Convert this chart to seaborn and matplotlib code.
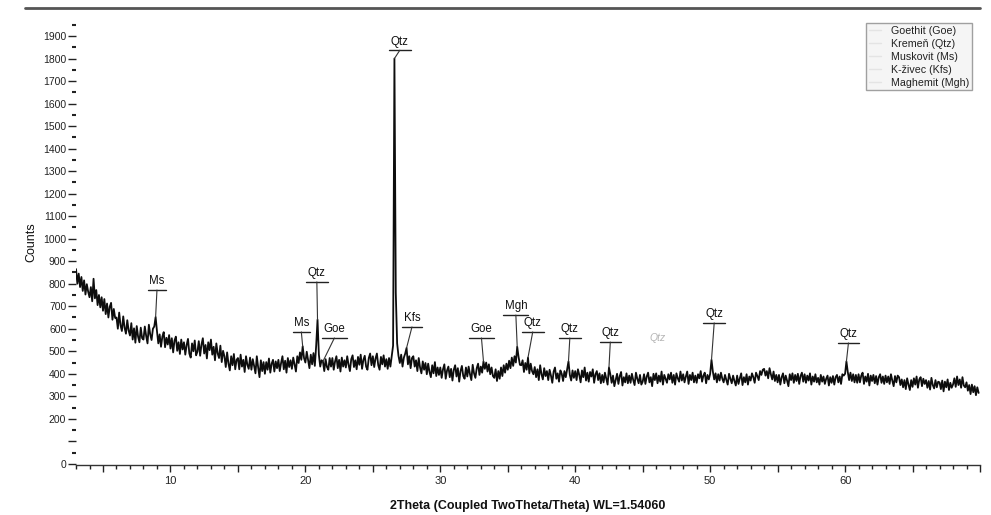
import numpy as np
import matplotlib
matplotlib.use("Agg")
import matplotlib.pyplot as plt
from matplotlib.lines import Line2D
from matplotlib.ticker import MultipleLocator, FuncFormatter, FixedLocator
import seaborn as sns

# XRD pattern, 2theta from 3.0 deg in 0.1 deg steps (one row per degree)
start_2theta = 3.0
step_2theta = 0.1
counts_rows = [
    [865, 800, 845, 785, 830, 768, 815, 752, 798, 765],   # 3
    [740, 785, 722, 822, 735, 772, 705, 750, 695, 740],   # 4
    [680, 732, 665, 712, 650, 698, 715, 640, 688, 648],   # 5
    [650, 600, 672, 615, 590, 655, 605, 578, 638, 592],   # 6
    [570, 625, 552, 602, 538, 612, 565, 540, 605, 558],   # 7
    [552, 610, 568, 535, 618, 575, 550, 600, 610, 652],   # 8
    [590, 535, 575, 520, 565, 585, 518, 560, 530, 572],   # 9
    [512, 558, 495, 548, 565, 502, 540, 488, 552, 508],   # 10
    [540, 485, 528, 555, 490, 472, 535, 500, 548, 482],   # 11
    [498, 545, 480, 530, 558, 490, 528, 468, 540, 505],   # 12
    [552, 485, 520, 460, 535, 490, 470, 525, 452, 502],   # 13
    [478, 430, 495, 445, 415, 478, 438, 488, 420, 462],   # 14
    [470, 420, 485, 432, 462, 408, 478, 440, 422, 472],   # 15
    [418, 465, 435, 402, 478, 428, 385, 460, 412, 452],   # 16
    [400, 452, 418, 468, 405, 445, 462, 410, 455, 425],   # 17
    [462, 412, 448, 478, 420, 458, 405, 470, 430, 460],   # 18
    [422, 472, 440, 410, 478, 448, 495, 462, 522, 470],   # 19
    [450, 498, 462, 425, 485, 442, 492, 435, 525, 640],   # 20
    [485, 432, 460, 455, 412, 465, 430, 418, 470, 432],   # 21
    [470, 418, 455, 478, 425, 462, 410, 472, 432, 460],   # 22
    [428, 478, 440, 412, 465, 482, 430, 460, 420, 475],   # 23
    [440, 485, 422, 462, 480, 432, 418, 470, 490, 438],   # 24
    [478, 430, 468, 490, 438, 418, 475, 442, 482, 432],   # 25
    [465, 422, 470, 432, 478, 525, 1800, 760, 535, 480],  # 26
    [448, 485, 432, 472, 490, 515, 442, 478, 425, 470],   # 27
    [478, 432, 460, 412, 470, 428, 402, 455, 418, 448],   # 28
    [398, 445, 408, 385, 438, 402, 452, 390, 428, 395],   # 29
    [428, 382, 420, 442, 378, 415, 432, 385, 422, 370],   # 30
    [418, 438, 388, 425, 365, 412, 435, 390, 378, 428],   # 31
    [388, 432, 398, 372, 440, 402, 382, 425, 445, 395],   # 32
    [432, 405, 455, 422, 450, 410, 442, 398, 428, 390],   # 33
    [382, 420, 368, 412, 378, 428, 390, 438, 405, 445],   # 34
    [418, 458, 425, 472, 435, 478, 450, 520, 475, 440],   # 35
    [438, 460, 408, 448, 418, 472, 402, 445, 412, 398],   # 36
    [430, 385, 420, 372, 438, 398, 375, 425, 390, 412],   # 37
    [372, 418, 392, 360, 410, 428, 378, 402, 365, 415],   # 38
    [400, 368, 412, 385, 420, 455, 395, 370, 415, 382],   # 39
    [412, 372, 420, 395, 362, 415, 385, 428, 370, 405],   # 40
    [365, 408, 388, 420, 360, 398, 412, 372, 402, 358],   # 41
    [395, 362, 405, 378, 352, 428, 398, 360, 392, 345],   # 42
    [372, 400, 355, 390, 408, 348, 385, 362, 402, 358],   # 43
    [392, 360, 400, 372, 350, 405, 378, 358, 395, 352],   # 44
    [365, 398, 355, 388, 405, 362, 385, 345, 400, 372],   # 45
    [402, 358, 392, 365, 410, 352, 395, 378, 360, 398],   # 46
    [375, 405, 360, 395, 352, 402, 380, 365, 410, 370],   # 47
    [398, 362, 388, 410, 355, 395, 372, 405, 362, 392],   # 48
    [360, 398, 380, 412, 365, 392, 405, 358, 395, 375],   # 49
    [400, 462, 410, 375, 402, 362, 398, 370, 405, 378],   # 50
    [362, 395, 372, 352, 400, 378, 358, 392, 368, 348],   # 51
    [392, 355, 380, 402, 350, 385, 362, 398, 352, 388],   # 52
    [370, 402, 385, 360, 405, 390, 372, 412, 395, 418],   # 53
    [422, 392, 412, 380, 425, 398, 375, 410, 368, 395],   # 54
    [362, 395, 352, 385, 402, 358, 392, 370, 345, 398],   # 55
    [372, 402, 360, 395, 368, 400, 355, 390, 405, 365],   # 56
    [398, 360, 392, 370, 402, 352, 388, 365, 398, 362],   # 57
    [382, 352, 395, 365, 388, 355, 378, 392, 348, 385],   # 58
    [360, 390, 352, 385, 395, 362, 388, 355, 398, 392],   # 59
    [400, 455, 408, 372, 405, 368, 398, 362, 395, 360],   # 60
    [398, 362, 392, 405, 355, 388, 365, 400, 348, 392],   # 61
    [368, 395, 358, 390, 352, 385, 398, 360, 388, 355],   # 62
    [392, 362, 388, 355, 398, 370, 345, 390, 362, 392],   # 63
    [385, 350, 375, 340, 372, 332, 380, 352, 328, 372],   # 64
    [342, 380, 352, 388, 338, 375, 385, 345, 378, 355],   # 65
    [372, 338, 368, 330, 382, 350, 335, 372, 340, 365],   # 66
    [362, 332, 370, 322, 365, 340, 375, 328, 360, 338],   # 67
    [352, 380, 342, 388, 350, 375, 338, 385, 348, 340],   # 68
    [362, 325, 350, 310, 352, 318, 345, 305, 340, 315],   # 69
]

# phase markers: label, peak position, label (bar) position, bar height in counts
peak_labels = ["Ms", "Ms", "Qtz", "Goe", "Qtz", "Kfs", "Goe", "Mgh", "Qtz", "Qtz", "Qtz", "Qtz", "Qtz"]
peak_pos = [8.9, 19.8, 20.9, 21.3, 26.6, 27.5, 33.2, 35.7, 36.5, 39.5, 42.5, 50.1, 60.1]
label_pos = [9.0, 19.7, 20.85, 22.15, 27.0, 27.9, 33.05, 35.6, 36.85, 39.6, 42.6, 50.3, 60.25]
label_h = [772, 586, 808, 559, 1837, 608, 559, 661, 586, 559, 541, 626, 537]

# faint (unconfirmed) label
faint_label = "Qtz"
faint_pos = 46.1
faint_h = 560

legend_names = ["Goethit (Goe)", "Kremeň (Qtz)", "Muskovit (Ms)", "K-živec (Kfs)", "Maghemit (Mgh)"]

counts = np.array([v for row in counts_rows for v in row], dtype=float)
two_theta = np.round(start_2theta + step_2theta * np.arange(len(counts)), 2)

sns.set_style("white")
plt.rcParams['font.family'] = ['Liberation Sans', 'DejaVu Sans']

fig = plt.figure(figsize=(9.91, 5.15), dpi=100)
ax = fig.add_axes([0.0767, 0.0971, 0.9122, 0.864])

sns.lineplot(x=two_theta, y=counts, ax=ax, color='#0d0d0d', linewidth=1.3,
             estimator=None, sort=False)

ax.set_xlim(3, 70)
ax.set_ylim(-5, 1971)

# annotations
bar_half = {"Qtz": 0.8, "Ms": 0.65, "Goe": 0.95, "Kfs": 0.75, "Mgh": 0.92}
for name, px, lx, lh in zip(peak_labels, peak_pos, label_pos, label_h):
    py = np.interp(px, two_theta, counts)
    hw = bar_half[name]
    ax.plot([lx - hw, lx + hw], [lh, lh], color='#222222', lw=1.0)
    ax.plot([lx, px], [lh, py], color='#333333', lw=0.8)
    ax.text(lx, lh + 12, name, ha='center', va='bottom', fontsize=8.3, color='#111111')
ax.text(faint_pos, faint_h, faint_label, ha='center', va='center', fontsize=7.5,
        color='#b5b5b5', style='italic')

# axes styling
for s in ['top', 'right', 'left']:
    ax.spines[s].set_visible(False)
ax.spines['bottom'].set_color('#333333')
ax.spines['bottom'].set_linewidth(1.0)

ax.xaxis.set_major_locator(MultipleLocator(5))
ax.xaxis.set_minor_locator(MultipleLocator(1))
ax.xaxis.set_major_formatter(FuncFormatter(lambda v, p: f"{int(v)}" if v % 10 == 0 and v < 70 else ""))
ax.tick_params(axis='x', which='major', direction='out', length=5, width=1, pad=3,
               labelsize=8, colors='#222222', bottom=True)
ax.tick_params(axis='x', which='minor', direction='out', length=3, width=1, bottom=True,
               colors='#222222')

ymaj = list(range(0, 2000, 100))
ax.yaxis.set_major_locator(FixedLocator(ymaj))
ax.yaxis.set_minor_locator(FixedLocator(list(range(50, 2000, 100))))
ax.yaxis.set_major_formatter(FuncFormatter(lambda v, p: "" if int(round(v)) == 100 else f"{int(round(v))}"))
ax.tick_params(axis='y', which='major', direction='out', length=6, width=1, pad=1,
               labelsize=7.5, colors='#222222', left=True)
ax.tick_params(axis='y', which='minor', direction='out', length=3, width=1.5, left=True,
               colors='#222222')

ax.set_xlabel("2Theta (Coupled TwoTheta/Theta) WL=1.54060", fontsize=9,
              fontweight='bold', color='#111111', labelpad=10)
ax.set_ylabel("Counts", fontsize=9, color='#111111', labelpad=4)

# legend with faint handles
handles = [Line2D([0], [0], color='#e4e4e4', lw=1) for _ in legend_names]
leg = fig.legend(handles, legend_names, loc='upper right',
                 bbox_to_anchor=(972 / 991, 1 - 23 / 515), fontsize=7.7,
                 frameon=True, fancybox=False, handlelength=1.2, handletextpad=0.9,
                 labelspacing=0.28, borderpad=0.25, borderaxespad=0)
leg.get_frame().set_edgecolor('#8a8a8a')
leg.get_frame().set_facecolor('#f3f3f3')
leg.get_frame().set_linewidth(1.0)
for t in leg.get_texts():
    t.set_color('#222222')

# top rule
fig.add_artist(Line2D([25 / 991, 980 / 991], [1 - 8 / 515, 1 - 8 / 515],
                      transform=fig.transFigure, color='#555555', lw=2))

fig.savefig("out.png", dpi=100)
